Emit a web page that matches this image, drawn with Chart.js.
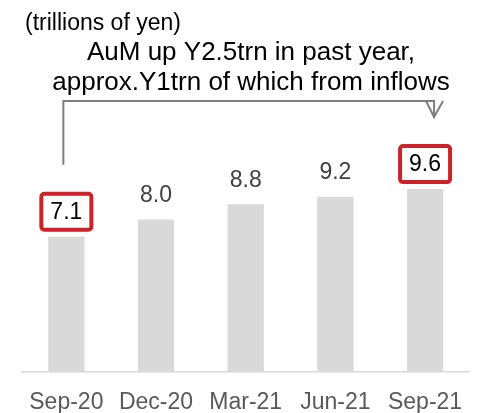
<!DOCTYPE html>
<html>
<head>
<meta charset="utf-8">
<script src="https://cdn.jsdelivr.net/npm/chart.js@4/dist/chart.umd.min.js"></script>
<style>
  html, body { margin: 0; padding: 0; background: #fff; }
  #wrap { width: 480px; height: 413px; position: relative; }
</style>
</head>
<body>
<div id="wrap"><canvas id="chart"></canvas></div>
<script>
var categories = ['Sep-20', 'Dec-20', 'Mar-21', 'Jun-21', 'Sep-21'];
var aum = [7.1, 8.0, 8.8, 9.2, 9.6];
var boxed = [true, false, false, false, true];
var unitLabel = '(trillions of yen)';
var noteLines = ['AuM up Y2.5trn in past year,', 'approx.Y1trn of which from inflows'];

var FONT = '"Liberation Sans", Arial, sans-serif';

// value labels, red boxes, the bracket arrow and the notes
var annotate = {
    id: 'annotate',
    afterDatasetsDraw: function (chart) {
        var ctx = chart.ctx;
        var bars = chart.getDatasetMeta(0).data;
        ctx.save();

        ctx.font = '23px ' + FONT;
        ctx.textAlign = 'center';
        ctx.textBaseline = 'middle';
        bars.forEach(function (bar, i) {
            var ty = bar.y - 25;
            if (boxed[i]) {
                ctx.strokeStyle = '#cc2229';
                ctx.lineWidth = 4;
                ctx.beginPath();
                ctx.roundRect(bar.x - 25, ty - 18, 50, 36, 3);
                ctx.stroke();
                ctx.fillStyle = '#000';
            } else {
                ctx.fillStyle = '#404040';
            }
            ctx.fillText(aum[i].toFixed(1), bar.x, ty + 1);
        });

        // bracket from first bar to last bar
        var first = bars[0], last = bars[bars.length - 1];
        var topY = 101;
        var lx = first.x - 3, rx = last.x + 9;
        ctx.strokeStyle = '#7f7f7f';
        ctx.lineWidth = 2;
        ctx.beginPath();
        ctx.moveTo(lx, first.y - 72);
        ctx.lineTo(lx, topY);
        ctx.lineTo(rx, topY);
        ctx.lineTo(rx, topY + 16);
        ctx.stroke();
        ctx.beginPath();
        ctx.moveTo(rx - 8, topY);
        ctx.lineTo(rx, topY + 16);
        ctx.lineTo(rx + 9, topY);
        ctx.stroke();

        ctx.fillStyle = '#000';
        ctx.textBaseline = 'alphabetic';
        ctx.textAlign = 'left';
        ctx.font = '23px ' + FONT;
        ctx.fillText(unitLabel, 25, 30);
        ctx.textAlign = 'center';
        ctx.font = '26px ' + FONT;
        ctx.fillText(noteLines[0], 251, 60);
        ctx.fillText(noteLines[1], 251, 90);
        ctx.restore();
    }
};

new Chart(document.getElementById('chart'), {
    type: 'bar',
    data: {
        labels: categories,
        datasets: [{
            data: aum,
            backgroundColor: '#d9d9d9',
            categoryPercentage: 1,
            barPercentage: 0.405
        }]
    },
    options: {
        responsive: true,
        maintainAspectRatio: false,
        animation: false,
        layout: { padding: { left: 21.5, right: 8.5, top: 143.4, bottom: 0 } },
        plugins: {
            legend: { display: false },
            tooltip: { enabled: false }
        },
        scales: {
            x: {
                grid: { display: false, drawTicks: false, drawOnChartArea: false },
                border: { display: true, color: '#d9d9d9', width: 1.5 },
                ticks: { color: '#595959', font: { family: FONT, size: 23 }, padding: 17, maxRotation: 0 },
                afterFit: function (scale) { scale.height = 41; }
            },
            y: {
                display: false,
                border: { display: false },
                grid: { display: false },
                min: 0,
                max: 12
            }
        }
    },
    plugins: [annotate]
});
</script>
</body>
</html>
